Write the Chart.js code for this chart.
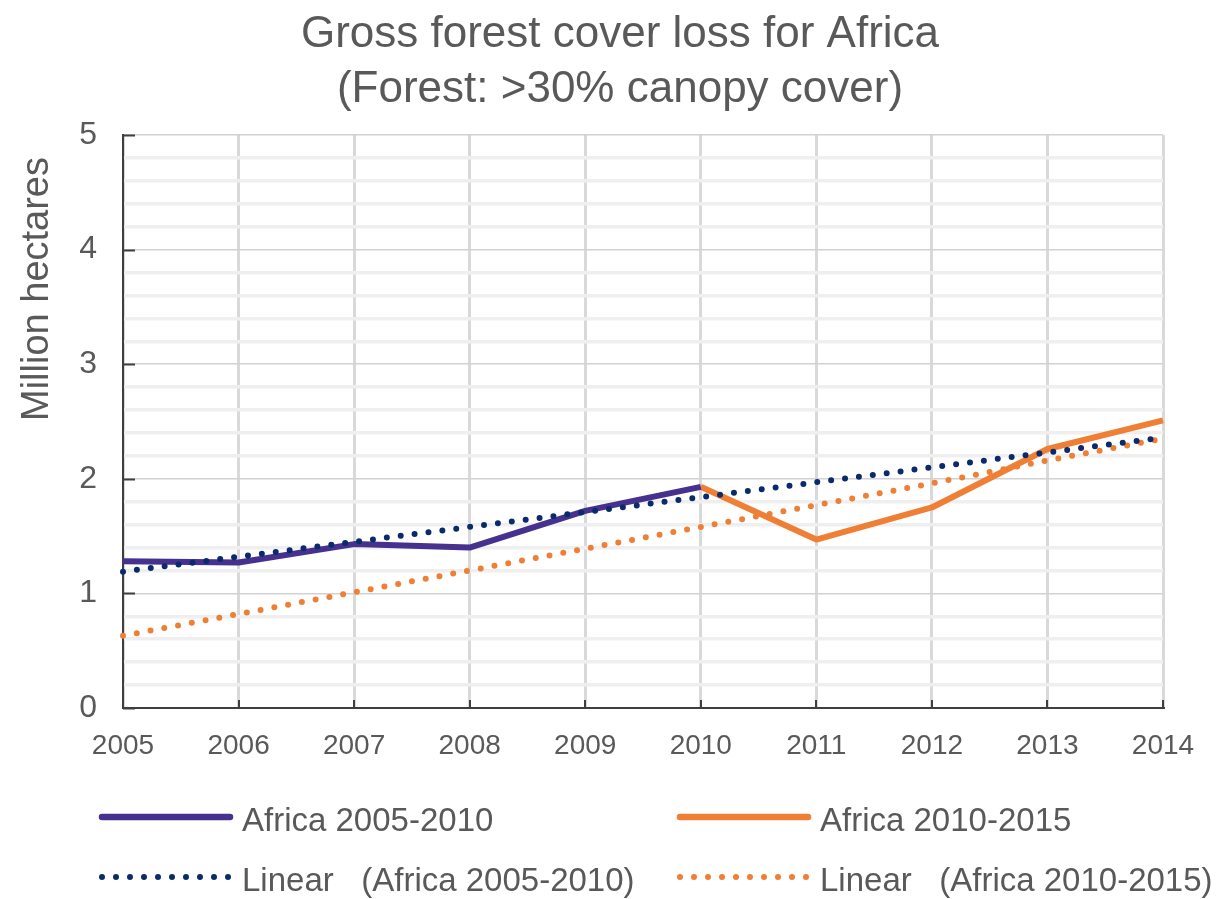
<!DOCTYPE html>
<html>
<head>
<meta charset="utf-8">
<title>Gross forest cover loss for Africa</title>
<script src="https://cdn.jsdelivr.net/npm/chart.js@4.4.1/dist/chart.umd.min.js"></script>
<style>
  html, body { margin: 0; padding: 0; background: #fff; }
  #wrap { width: 1228px; height: 899px; }
</style>
</head>
<body>
<div id="wrap"><canvas id="lossChart" width="1228" height="899"></canvas></div>
<script>
// values (million hectares)
const years = ['2005', '2006', '2007', '2008', '2009', '2010', '2011', '2012', '2013', '2014'];
const africa0510 = [1.28, 1.27, 1.43, 1.40, 1.72, 1.93, null, null, null, null];
const africa1015 = [null, null, null, null, null, 1.93, 1.47, 1.75, 2.26, 2.51];
const trend0510 = [1.19, 1.32, 1.45, 1.58, 1.71, 1.84, 1.97, 2.10, 2.23, 2.36];
const trend1015 = [0.63, 0.82, 1.01, 1.20, 1.39, 1.58, 1.77, 1.96, 2.16, 2.35];
const yTickLabels = ['0', '1', '2', '3', '4', '5'];

const titleLines = ['Gross forest cover loss for Africa', '(Forest: >30% canopy cover)'];
const yTitle = 'Million hectares';

(function () {
    const canvas = document.getElementById('lossChart');
    if (!canvas) return;
    const ctx = canvas.getContext('2d');

    const FONT = '"Liberation Sans", Arial, Helvetica, sans-serif';
    const TEXT = '#595959';
    const AXIS = '#3f3f3f';

    const PURPLE = '#46318f';
    const NAVY = '#0b2a6c';
    const ORANGE = '#ef7f34';

    function isWhole(v) {
        return Math.abs(v - Math.round(v)) < 1e-6;
    }

    // legend slots: column/row placement only
    const legendSlots = [
        { ds: 0, x: 102, y: 817 },
        { ds: 2, x: 680, y: 817 },
        { ds: 1, x: 102, y: 877 },
        { ds: 3, x: 680, y: 877 }
    ];

    const decorations = {
        id: 'decorations',
        afterDraw(chart) {
            const c = chart.ctx;
            const area = chart.chartArea;
            const xs = chart.scales.x;
            const ys = chart.scales.y;
            c.save();

            // title
            c.fillStyle = TEXT;
            c.textAlign = 'center';
            c.textBaseline = 'alphabetic';
            c.font = '44px ' + FONT;
            c.fillText(titleLines[0], 620, 47);
            c.fillText(titleLines[1], 620, 102);

            // y axis title
            c.save();
            c.translate(38, 289);
            c.rotate(-Math.PI / 2);
            c.textBaseline = 'middle';
            c.font = '38px ' + FONT;
            c.fillText(yTitle, 0, 0);
            c.restore();

            // inner tick marks
            c.strokeStyle = AXIS;
            c.lineWidth = 2;
            c.setLineDash([]);
            yTickLabels.forEach(t => {
                const py = Math.round(ys.getPixelForValue(Number(t))) + 0.5;
                c.beginPath();
                c.moveTo(area.left, py);
                c.lineTo(area.left + 12, py);
                c.stroke();
            });
            years.forEach((y, i) => {
                const px = Math.round(xs.getPixelForValue(i));
                c.beginPath();
                c.moveTo(px, area.bottom);
                c.lineTo(px, area.bottom - 8);
                c.stroke();
            });

            // legend
            c.font = '33px ' + FONT;
            c.textAlign = 'left';
            c.textBaseline = 'middle';
            legendSlots.forEach(slot => {
                const ds = chart.data.datasets[slot.ds];
                c.save();
                c.strokeStyle = ds.borderColor;
                c.lineWidth = ds.borderDash ? 6 : 6.5;
                c.lineCap = 'round';
                c.setLineDash(ds.borderDash || []);
                c.beginPath();
                c.moveTo(slot.x, slot.y);
                c.lineTo(slot.x + 128, slot.y);
                c.stroke();
                c.restore();
                c.fillStyle = TEXT;
                c.fillText(ds.label, slot.x + 140, slot.y + 5);
            });

            c.restore();
        }
    };

    const chart = new Chart(ctx, {
        type: 'line',
        data: {
            labels: years,
            datasets: [
                {
                    label: 'Africa 2005-2010',
                    data: africa0510,
                    borderColor: PURPLE,
                    borderWidth: 6,
                    order: 2
                },
                {
                    label: 'Linear   (Africa 2005-2010)',
                    data: trend0510,
                    borderColor: NAVY,
                    borderWidth: 6,
                    borderDash: [0, 14],
                    borderCapStyle: 'round',
                    order: 1
                },
                {
                    label: 'Africa 2010-2015',
                    data: africa1015,
                    borderColor: ORANGE,
                    borderWidth: 6,
                    order: 2
                },
                {
                    label: 'Linear   (Africa 2010-2015)',
                    data: trend1015,
                    borderColor: ORANGE,
                    borderWidth: 6,
                    borderDash: [0, 14],
                    borderCapStyle: 'round',
                    order: 1
                }
            ]
        },
        options: {
            responsive: false,
            animation: false,
            layout: { padding: { top: 135, right: 65, left: 0, bottom: 0 } },
            elements: {
                point: { radius: 0, hoverRadius: 0 },
                line: { tension: 0, borderJoinStyle: 'round', fill: false }
            },
            plugins: {
                legend: { display: false },
                title: { display: false },
                tooltip: { enabled: false }
            },
            scales: {
                x: {
                    offset: false,
                    grid: {
                        color: '#d9d9d9',
                        lineWidth: 3,
                        drawTicks: false
                    },
                    border: { display: true, color: AXIS, width: 2 },
                    ticks: {
                        color: TEXT,
                        font: { family: FONT, size: 28 },
                        padding: 21,
                        maxRotation: 0,
                        autoSkip: false
                    },
                    afterFit(scale) {
                        scale.height = 191;
                        scale.paddingLeft = 0;
                        scale.paddingRight = 0;
                    }
                },
                y: {
                    min: 0,
                    max: 5,
                    grid: {
                        drawTicks: false,
                        color: c => isWhole(c.tick.value) ? '#d2d2d2' : '#efefef',
                        lineWidth: c => isWhole(c.tick.value) ? 1.5 : 3.5
                    },
                    border: { display: true, color: AXIS, width: 2 },
                    ticks: {
                        stepSize: 0.2,
                        maxTicksLimit: 40,
                        autoSkip: false,
                        color: TEXT,
                        font: { family: FONT, size: 32 },
                        padding: 26,
                        callback: v => {
                            const r = Math.round(v);
                            return isWhole(v) && yTickLabels.includes(String(r)) ? String(r) : '';
                        }
                    },
                    afterFit(scale) {
                        scale.width = 123;
                        scale.paddingTop = 0;
                        scale.paddingBottom = 0;
                    }
                }
            }
        },
        plugins: [decorations]
    });
})();
</script>
</body>
</html>
